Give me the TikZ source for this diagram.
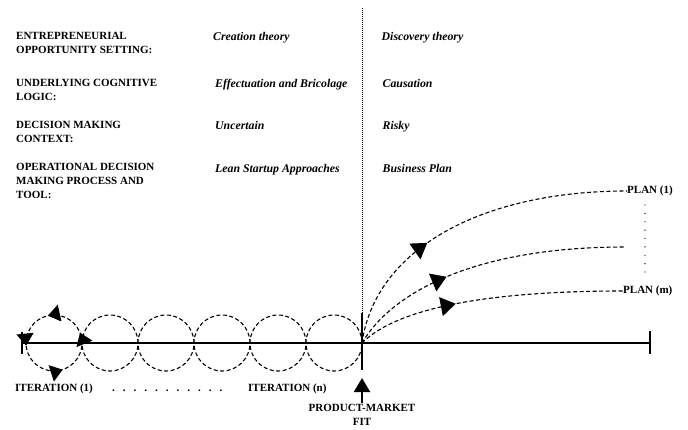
\documentclass[tikz,border=0pt]{standalone}
\usepackage{fontspec}
\setmainfont{Liberation Serif}
\usetikzlibrary{arrows.meta,decorations.markings}

\newcommand{\espace}{\hspace{8pt}}

\begin{document}
\begin{tikzpicture}[x=1pt, y=-1pt,
    titre/.style={anchor=base west, align=left, inner sep=0pt, font=\fontsize{11}{14}\selectfont\bfseries},
    theorie/.style={anchor=base west, inner sep=0pt, font=\fontsize{11.8}{14}\selectfont\bfseries\itshape},
    etiquette/.style={anchor=base west, inner sep=0pt, font=\fontsize{11}{13.5}\selectfont\bfseries},
    axe/.style={line width=2.5pt},
    tirets/.style={line width=1.1pt, dash pattern=on 4pt off 2.5pt},
    pointe/.tip={Triangle[length=15pt, width=19pt]},
    rond/.tip={Triangle[length=12pt, width=17pt]},
    milieu/.style={postaction={decorate}, decoration={markings, mark=at position #1 with {\arrow{pointe}}}}]

    \useasboundingbox (0,0) rectangle (688,429);

    % Définition des intitulés de gauche
    \node[titre] (cadre) at (16,53.5) {ENTREPRENEURIAL\\OPPORTUNITY SETTING:};
    \node[titre] (logique) at (16,100.5) {UNDERLYING COGNITIVE\\LOGIC:};
    \node[titre] (contexte) at (16,142.5) {DECISION MAKING\\CONTEXT:};
    \node[titre] (outil) at (16,198.5) {OPERATIONAL DECISION\\MAKING PROCESS AND\\TOOL:};

    % Colonne de la théorie de la création
    \node[theorie] (creation) at (213,40) {Creation theory};
    \node[theorie] (effectuation) at (215,87) {Effectuation and Bricolage};
    \node[theorie] (incertain) at (215,129) {Uncertain};
    \node[theorie] (lean) at (215,172) {Lean Startup Approaches};

    % Colonne de la théorie de la découverte
    \node[theorie] (decouverte) at (381.5,40) {Discovery theory};
    \node[theorie] (causation) at (382.5,87) {Causation};
    \node[theorie] (risque) at (382.5,129) {Risky};
    \node[theorie] (plan) at (382.5,172) {Business Plan};

    % Séparation verticale et axe du temps
    \coordinate (haut) at (362,8);
    \coordinate (coupure) at (362,313);
    \coordinate (bas) at (362,370);
    \coordinate (pmf) at (362,343);
    \coordinate (debut) at (22,343);
    \coordinate (fin) at (650,343);
    \draw[line width=0.9pt, dash pattern=on 1.2pt off 0.8pt] (haut) -- (coupure);
    \draw[axe] (coupure) -- (bas);
    \draw[axe] (debut) -- (fin);
    \draw[axe] ([yshift=11pt]debut) -- ([yshift=-11pt]debut);
    \draw[axe] ([yshift=12pt]fin) -- ([yshift=-11pt]fin);

    % Cercles des itérations
    \draw[tirets, postaction={decorate}, decoration={markings,
        mark=at position 0.06 with {\arrow{rond}},
        mark=at position 0.285 with {\arrow{rond}},
        mark=at position 0.515 with {\arrow{rond}},
        mark=at position 0.8 with {\arrow{rond}}}]
        (82,343) arc[start angle=0, end angle=360, radius=28pt];
    \foreach \i in {1,...,5}
        \draw[tirets] (54+56*\i,343) circle[radius=28pt];

    % Plans de la théorie de la découverte
    \node[etiquette, anchor=west] (plan1) at (627,191) {PLAN (1)};
    \coordinate (plan2) at (625,247);
    \node[etiquette, anchor=west] (planm) at (623,291) {PLAN (m)};
    \draw[tirets, milieu=0.37] (pmf) .. controls (375,250) and (480,191) .. (plan1.west);
    \draw[tirets, milieu=0.375] (pmf) .. controls (390,295) and (470,247) .. (plan2);
    \draw[tirets, milieu=0.38] (pmf) .. controls (395,310) and (480,291) .. (planm.west);
    \draw[line width=1.3pt, line cap=round, dash pattern=on 0pt off 8.375pt] (645,205) -- (645,272);

    % Légendes sous l'axe
    \node[etiquette] (iter1) at (15,391) {ITERATION (1)};
    \node[etiquette] (points) at (112,391) {.\espace.\espace.\espace.\espace.\espace.\espace.\espace.\espace.\espace.\espace.};
    \node[etiquette] (itern) at (248,391) {ITERATION (n)};
    \node[etiquette, anchor=base, align=center, inner sep=1pt] (ajustement) at (362,425) {PRODUCT-MARKET\\FIT};
    \coordinate (sommet) at (362,378);
    \draw[line width=2pt, -{Triangle[length=14pt, width=16pt]}] (ajustement.north) -- (sommet);

\end{tikzpicture}
\end{document}
